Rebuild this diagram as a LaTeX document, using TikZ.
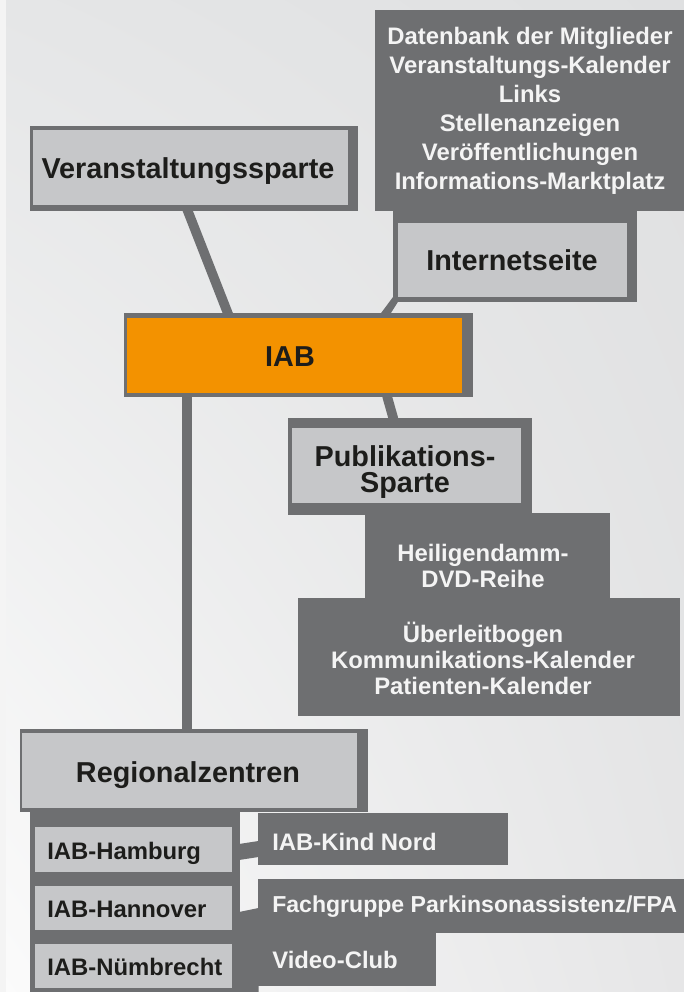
\documentclass[tikz,border=0pt]{standalone}
\usepackage{fontspec}
\setmainfont{Liberation Sans}
\usetikzlibrary{shadings}
\definecolor{dk}{HTML}{6E6F71}
\definecolor{lt}{HTML}{C6C7C9}
\definecolor{org}{HTML}{F39200}
\definecolor{ink}{HTML}{1D1D1B}
\definecolor{wt}{HTML}{F4F4F4}
\definecolor{bgUL}{HTML}{E5E6E7}
\definecolor{bgUR}{HTML}{DFE0E1}
\definecolor{bgLL}{HTML}{FBFBFB}
\definecolor{bgLR}{HTML}{E6E6E7}
\definecolor{edge}{HTML}{F4F4F4}
\tikzset{
  dkbox/.style={fill=dk},
  ltbox/.style={fill=lt},
  orgbox/.style={fill=org},
  head/.style={font=\fontsize{21.6}{26}\selectfont\bfseries, text=ink, inner sep=0pt, anchor=base},
  wline/.style={font=\fontsize{17.9}{21}\selectfont\bfseries, text=wt, inner sep=0pt, anchor=base},
  llabel/.style={font=\fontsize{17.9}{21}\selectfont\bfseries, text=ink, inner sep=0pt, anchor=base west},
  rlabel/.style={font=\fontsize{17.9}{21}\selectfont\bfseries, text=wt, inner sep=0pt, anchor=base west},
  conn/.style={draw=dk, line width=7.2pt},
}
\begin{document}
\begin{tikzpicture}[x=0.75pt,y=-0.75pt]
\useasboundingbox (0,0) rectangle (684,992);
\begin{scope}
\clip (0,0) rectangle (684,992);
% background
\shade[upper left=bgUL, upper right=bgUR, lower left=bgLL, lower right=bgLR] (0,0) rectangle (684,992);
\fill[edge] (0,0) rectangle (6,992);

% ---- connectors ----
\coordinate (vsB) at (187,209);
\coordinate (iabT1) at (228.5,315);
\draw[conn] (vsB) -- (iabT1);
\coordinate (iabB2) at (387,396);
\coordinate (pubT) at (393.5,419);
\draw[conn] (iabB2) -- (pubT);
\coordinate (iabB1) at (187,396);
\coordinate (regT) at (187,730);
\draw[conn, line width=6.8pt] (iabB1) -- (regT);
\fill[dk] (393,297) -- (398.5,301) -- (390,314.5) -- (380,314.5) -- cycle;

% ---- top list box ----
\fill[dkbox] (375,10) rectangle (690,211);
\node[wline] (l1) at (530,44)  {Datenbank der Mitglieder};
\node[wline] (l2) at (530,73)  {Veranstaltungs-Kalender};
\node[wline] (l3) at (530,102) {Links};
\node[wline] (l4) at (530,131) {Stellenanzeigen};
\node[wline] (l5) at (530,160) {Veröffentlichungen};
\node[wline] (l6) at (530,189) {Informations-Marktplatz};

% ---- Internetseite ----
\fill[dkbox] (393,210) rectangle (637,302);
\fill[ltbox] (398,223) rectangle (627,297);
\node[head] (inet) at (512,270) {Internetseite};

% ---- Veranstaltungssparte ----
\fill[dkbox] (30,126) rectangle (358,211);
\fill[ltbox] (33,130) rectangle (348,205);
\node[head] (vs) at (188,178) {Veranstaltungssparte};

% ---- IAB ----
\fill[dkbox] (124,313) rectangle (473,397);
\fill[orgbox] (127,318) rectangle (462,393);
\node[head] (iab) at (290,366) {IAB};

% ---- Publikations-Sparte ----
\fill[dkbox] (288,418) rectangle (532,515);
\fill[ltbox] (292,428) rectangle (521,503);
\node[head] (pub1) at (405,466) {Publikations-};
\node[head] (pub2) at (405,492) {Sparte};

% ---- Heiligendamm ----
\fill[dkbox] (365,513) rectangle (610,599);
\node[wline] (h1) at (483,561) {Heiligendamm-};
\node[wline] (h2) at (483,587) {DVD-Reihe};

% ---- Ueberleitbogen ----
\fill[dkbox] (298,598) rectangle (680,716);
\node[wline] (u1) at (483,642) {Überleitbogen};
\node[wline] (u2) at (483,668) {Kommunikations-Kalender};
\node[wline] (u3) at (483,694) {Patienten-Kalender};

% ---- Regionalzentren ----
\fill[dkbox] (20,729) rectangle (368,812);
\fill[ltbox] (22,733) rectangle (357,808);
\node[head] (reg) at (188,782) {Regionalzentren};

% column
\fill[dkbox] (30,811) rectangle (240,1000);
\fill[ltbox] (35,827) rectangle (232,872);
\fill[ltbox] (35,886) rectangle (232,930);
\fill[ltbox] (35,944) rectangle (232,988);
\node[llabel] (hh) at (47,859) {IAB-Hamburg};
\node[llabel] (hn) at (47,917) {IAB-Hannover};
\node[llabel] (nb) at (47,975) {IAB-Nümbrecht};

% right side
\fill[dk] (239,844) -- (258.5,841) -- (258.5,857) -- (239,860) -- cycle;
\fill[dk] (239,912) -- (258.5,908) -- (258.5,1000) -- (239,1000) -- cycle;
\fill[dkbox] (258,813) rectangle (508,865);
\fill[dkbox] (258,879) rectangle (690,933);
\fill[dkbox] (258,932) rectangle (436,986);
\node[rlabel] (kn) at (272,850) {IAB-Kind Nord};
\node[rlabel, font=\fontsize{17.3}{21}\selectfont\bfseries] (fg) at (272,912) {Fachgruppe Parkinsonassistenz/FPA};
\node[rlabel] (vc) at (272,968) {Video-Club};
\end{scope}
\end{tikzpicture}
\end{document}
